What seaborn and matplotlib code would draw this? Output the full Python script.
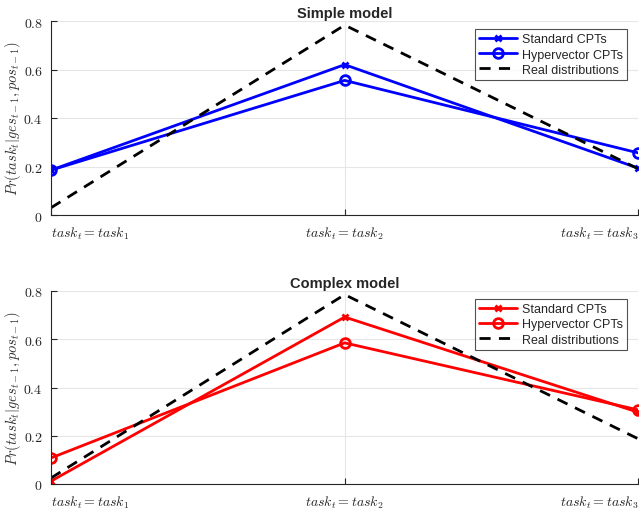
import matplotlib
matplotlib.use("Agg")
import matplotlib.pyplot as plt
import matplotlib.transforms as mtrans
import seaborn as sns
import pandas as pd

categories = [r"$task_t=task_1$", r"$task_t=task_2$", r"$task_t=task_3$"]
yticks = [0, 0.2, 0.4, 0.6, 0.8]
titles = ["Simple model", "Complex model"]

simple_standard = [0.185, 0.62, 0.193]
simple_hyper = [0.185, 0.555, 0.256]
simple_real = [0.03, 0.783, 0.19]

complex_standard = [0.012, 0.692, 0.297]
complex_hyper = [0.108, 0.585, 0.307]
complex_real = [0.025, 0.785, 0.187]

series_names = ["Standard CPTs", "Hypervector CPTs", "Real distributions"]

sns.set_theme(style="white")
plt.rcParams["font.family"] = ["Liberation Sans", "DejaVu Sans"]
plt.rcParams["mathtext.fontset"] = "cm"

fig = plt.figure(figsize=(6.39, 5.10), dpi=100)
ax1 = fig.add_axes([51 / 639, (510 - 216) / 510, 1 - 51 / 639 - 0.001, 194 / 510])
ax2 = fig.add_axes([51 / 639, (510 - 485) / 510, 1 - 51 / 639 - 0.001, 193 / 510])

panels = [
    (ax1, simple_standard, simple_hyper, simple_real, "#0000ff"),
    (ax2, complex_standard, complex_hyper, complex_real, "#ff0000"),
]

xs = [1, 2, 3]
for (ax, std, hyp, real, col), title in zip(panels, titles):
    df = pd.DataFrame({"x": xs * 3,
                       "y": std + hyp + real,
                       "s": [series_names[0]] * 3 + [series_names[1]] * 3 + [series_names[2]] * 3})
    sns.lineplot(data=df[df.s == series_names[0]], x="x", y="y", ax=ax, color=col,
                 lw=2.0, marker="x", markersize=5, markeredgewidth=2.0,
                 markeredgecolor=col, label=series_names[0])
    sns.lineplot(data=df[df.s == series_names[1]], x="x", y="y", ax=ax, color=col,
                 lw=2.0, marker="o", markersize=7, markeredgewidth=2.0,
                 markerfacecolor="none", markeredgecolor=col, label=series_names[1])
    sns.lineplot(data=df[df.s == series_names[2]], x="x", y="y", ax=ax, color="black",
                 lw=2.0, dashes=False, label=series_names[2])
    ax.lines[-1].set_linestyle((0, (4, 3)))
    ax.set_xlim(1, 3)
    ax.set_ylim(0, 0.8)
    ax.set_xticks(xs)
    ax.set_xticklabels(categories, fontsize=10)
    xl = ax.get_xticklabels()
    xl[0].set_horizontalalignment("left")
    xl[0].set_transform(xl[0].get_transform() + mtrans.ScaledTranslation(-4 / 100, 0, fig.dpi_scale_trans))
    xl[2].set_horizontalalignment("right")
    xl[2].set_transform(xl[2].get_transform() + mtrans.ScaledTranslation(2 / 100, 0, fig.dpi_scale_trans))
    ax.set_yticks(yticks)
    ax.set_yticklabels(["$0$", "$0.2$", "$0.4$", "$0.6$", "$0.8$"], fontsize=10)
    ax.set_xlabel("")
    ax.set_ylabel(r"$Pr(task_t|ges_{t-1},pos_{t-1})$", fontsize=10.5, color="#333333")
    ax.yaxis.set_label_coords(-28 / 588, 0.5)
    ax.set_title(title, fontsize=10.5, fontweight="bold", pad=3)
    ax.grid(True, color="#e6e6e6", lw=0.8)
    ax.set_axisbelow(True)
    for side in ["top", "right"]:
        ax.spines[side].set_visible(False)
    for side in ["left", "bottom"]:
        ax.spines[side].set_color("#262626")
        ax.spines[side].set_linewidth(0.8)
    ax.tick_params(direction="in", length=4, width=0.8, color="#262626",
                   labelcolor="#262626", left=True, bottom=True, pad=6)
    ax.tick_params(axis="x", pad=7)
    leg = ax.legend(loc="upper right", bbox_to_anchor=(1 - 11 / 588, 1 - 8 / 194), fontsize=9,
                    frameon=True, fancybox=False, edgecolor="#262626",
                    borderpad=0.35, handlelength=3.0, handletextpad=0.4,
                    labelspacing=0.25, borderaxespad=0)
    leg.get_frame().set_linewidth(0.8)

fig.savefig("out.png", dpi=100)
